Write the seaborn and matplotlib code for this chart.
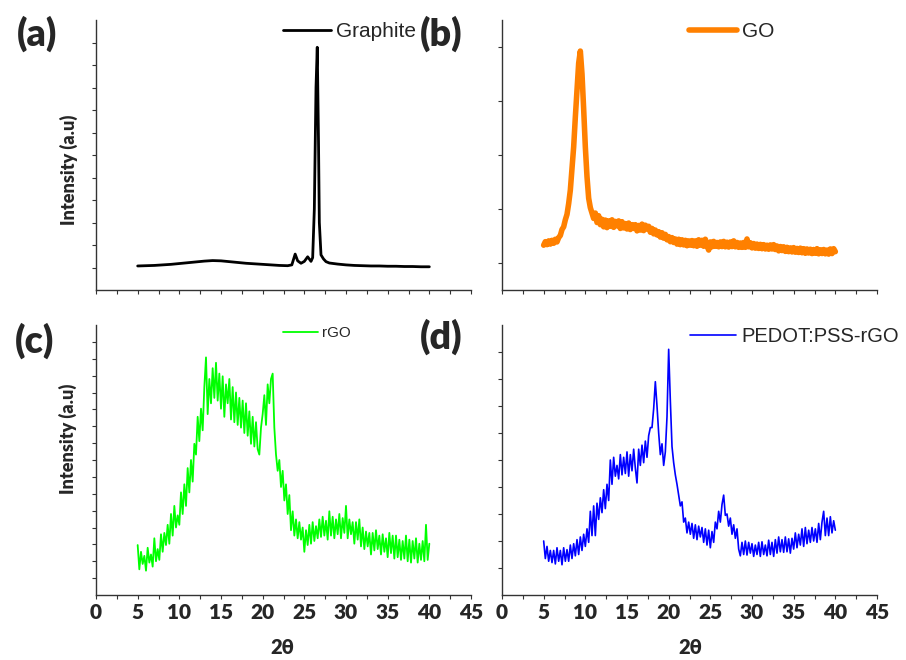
import numpy as np
import pandas as pd
import matplotlib
matplotlib.use("Agg")
import matplotlib.pyplot as plt
import seaborn as sns
from matplotlib.ticker import MultipleLocator, FixedLocator

sns.set_style("ticks")
plt.rcParams['font.family'] = ['Lato', 'DejaVu Sans']

# ---------------- data (intensity in arbitrary units) -------------
graphite_x = [5, 6, 7, 8, 9, 10, 11, 12, 13, 14, 15, 16, 17, 18, 19, 20, 21, 22, 23,
              23.5, 23.9, 24.2, 24.6, 25.0, 25.4, 25.8, 26.0, 26.2, 26.4, 26.55, 26.7,
              26.8, 27.0, 27.3, 27.6, 28, 29, 30, 31, 32, 33, 34, 35, 36, 37, 38, 39, 40]
graphite_y = [8.9, 9.0, 9.1, 9.3, 9.5, 9.8, 10.1, 10.4, 10.7, 10.9, 10.8, 10.5, 10.2, 9.9,
              9.7, 9.5, 9.3, 9.1, 9.0, 9.3, 13.3, 10.8, 9.9, 10.6, 12.3, 10.6, 12.0, 30.0,
              75.0, 89.9, 55.0, 25.0, 13.0, 11.5, 10.5, 10.0, 9.6, 9.3, 9.1, 9.0, 8.9, 8.9,
              8.8, 8.8, 8.7, 8.7, 8.6, 8.6]

# step 0.2 deg from 5.0 to 40.0 (one row per degree)
go_y = [
    16.6, 17.9, 16.8, 18.2, 17.0,   # 5
    18.4, 17.3, 18.8, 17.8, 19.4,   # 6
    20.2, 22.4, 23.4, 26.0, 28.0,   # 7
    32.0, 37.0, 45.0, 53.0, 64.0,   # 8
    74.0, 84.0, 88.5, 80.0, 67.0,   # 9
    53.0, 42.0, 34.0, 30.5, 28.5,   # 10
    26.5, 28.5, 25.0, 27.5, 24.2,   # 11
    26.2, 23.4, 25.9, 23.1, 25.6,   # 12
    23.6, 26.0, 23.2, 25.4, 23.8,   # 13
    25.6, 22.8, 25.3, 23.0, 24.6,   # 14
    22.6, 24.8, 22.4, 24.2, 22.8,   # 15
    24.2, 21.9, 23.9, 22.2, 24.4,   # 16
    22.0, 24.0, 22.6, 23.6, 21.4,   # 17
    22.8, 20.8, 22.2, 20.4, 21.6,   # 18
    19.6, 21.2, 19.2, 20.6, 18.6,   # 19
    19.8, 17.9, 19.4, 17.6, 18.9,   # 20
    17.0, 18.8, 16.8, 18.6, 16.7,   # 21
    18.4, 16.4, 18.2, 16.6, 18.3,   # 22
    16.4, 18.2, 16.2, 18.6, 16.6,   # 23
    18.4, 16.2, 18.8, 16.4, 14.8,   # 24
    17.8, 16.0, 18.0, 16.2, 17.6,   # 25
    16.0, 17.8, 16.1, 18.0, 16.0,   # 26
    17.7, 15.9, 17.8, 16.1, 18.2,   # 27
    16.0, 17.6, 15.8, 17.4, 15.8,   # 28
    17.6, 15.8, 18.9, 16.0, 17.5,   # 29
    15.6, 17.2, 15.5, 17.0, 15.4,   # 30
    16.9, 15.3, 16.8, 15.2, 16.6,   # 31
    15.1, 16.7, 15.2, 16.8, 15.0,   # 32
    16.3, 14.5, 16.1, 14.6, 16.0,   # 33
    14.3, 15.8, 14.2, 15.6, 14.1,   # 34
    15.7, 14.0, 15.4, 13.9, 15.5,   # 35
    13.8, 15.3, 13.6, 15.2, 13.7,   # 36
    15.1, 13.5, 15.0, 13.6, 15.3,   # 37
    13.4, 14.9, 13.5, 15.0, 13.4,   # 38
    14.8, 13.3, 15.2, 13.5, 15.3,   # 39
    14.2]                           # 40

rgo_y = [
    18.5, 9.5, 16.0, 11.5, 14.5,    # 5
    9.0, 17.5, 12.0, 15.0, 10.5,    # 6
    21.0, 12.5, 17.0, 13.0, 22.5,   # 7
    16.0, 23.0, 18.5, 26.0, 19.0,   # 8
    30.0, 22.0, 33.0, 25.0, 29.5,   # 9
    26.0, 38.0, 30.0, 41.0, 33.0,   # 10
    47.0, 38.0, 50.0, 42.0, 56.0,   # 11
    52.0, 66.0, 57.0, 69.0, 61.0,   # 12
    77.0, 88.0, 67.0, 80.0, 71.0,   # 13
    84.0, 73.0, 86.0, 72.0, 82.0,   # 14
    69.0, 81.0, 66.0, 78.0, 71.0,   # 15
    80.0, 65.0, 77.0, 64.0, 75.0,   # 16
    63.0, 73.0, 62.0, 72.0, 60.0,   # 17
    71.0, 59.0, 68.0, 56.0, 66.0,   # 18
    55.0, 64.0, 54.0, 52.0, 62.0,   # 19
    67.0, 74.0, 63.0, 78.0, 71.0,   # 20
    80.0, 82.0, 62.0, 52.0, 46.0,   # 21
    50.0, 40.0, 46.0, 35.0, 41.0,   # 22
    30.0, 37.0, 24.0, 31.0, 22.0,   # 23
    28.0, 21.0, 27.0, 20.5, 25.0,   # 24
    16.0, 24.0, 18.5, 26.0, 19.0,   # 25
    27.0, 20.0, 25.5, 21.0, 28.0,   # 26
    21.5, 29.0, 22.0, 27.5, 20.5,   # 27
    31.0, 22.0, 29.0, 21.0, 28.0,   # 28
    22.5, 30.0, 21.0, 28.5, 23.0,   # 29
    33.0, 21.0, 28.0, 22.5, 27.0,   # 30
    19.0, 27.0, 20.5, 28.0, 18.0,   # 31
    25.0, 17.0, 23.5, 18.0, 23.0,   # 32
    15.0, 23.0, 16.5, 24.0, 17.0,   # 33
    22.0, 15.0, 22.5, 16.0, 21.0,   # 34
    14.0, 23.0, 15.5, 22.0, 13.5,   # 35
    22.0, 14.0, 20.5, 13.0, 20.0,   # 36
    13.5, 22.0, 12.5, 20.5, 12.0,   # 37
    20.0, 13.5, 21.0, 12.0, 19.0,   # 38
    13.0, 20.0, 12.5, 26.0, 13.0,   # 39
    19.0]                           # 40

pedot_y = [
    20.0, 13.5, 18.0, 12.5, 16.5,   # 5
    12.0, 16.5, 11.5, 17.5, 12.5,   # 6
    16.5, 11.2, 17.5, 12.5, 16.8,   # 7
    12.5, 18.5, 13.5, 19.0, 14.5,   # 8
    20.5, 15.0, 21.5, 16.5, 22.5,   # 9
    18.0, 24.5, 19.5, 31.0, 22.0,   # 10
    33.0, 22.0, 34.0, 28.0, 36.0,   # 11
    30.5, 39.0, 32.0, 41.0, 35.0,   # 12
    50.0, 41.0, 51.0, 44.0, 48.0,   # 13
    43.0, 52.0, 44.5, 51.0, 45.0,   # 14
    53.0, 44.0, 52.0, 46.0, 54.0,   # 15
    47.0, 41.5, 54.0, 48.0, 55.5,   # 16
    49.0, 57.0, 51.0, 59.0, 62.0,   # 17
    62.0, 69.0, 79.0, 70.0, 60.0,   # 18
    52.0, 56.0, 48.0, 53.0, 66.0,   # 19
    91.0, 72.0, 55.0, 49.0, 44.5,   # 20
    41.0, 37.0, 33.0, 34.5, 27.0,   # 21
    28.5, 23.0, 27.0, 22.5, 26.5,   # 22
    21.0, 26.0, 20.5, 25.5, 21.5,   # 23
    25.0, 19.5, 24.5, 18.5, 24.0,   # 24
    17.5, 23.5, 19.5, 27.0, 24.5,   # 25
    31.0, 27.0, 33.5, 37.0, 29.5,   # 26
    30.0, 25.5, 28.5, 22.5, 26.0,   # 27
    21.0, 24.5, 17.0, 14.5, 19.5,   # 28
    15.0, 20.0, 14.8, 19.5, 15.5,   # 29
    19.0, 14.3, 18.5, 15.0, 19.5,   # 30
    14.3, 19.7, 15.0, 18.5, 14.5,   # 31
    20.3, 15.0, 19.5, 14.3, 20.5,   # 32
    15.5, 21.5, 16.0, 20.5, 15.8,   # 33
    21.5, 16.0, 20.8, 15.5, 21.0,   # 34
    17.0, 23.0, 17.5, 22.5, 18.5,   # 35
    24.5, 18.0, 25.0, 19.0, 24.0,   # 36
    19.5, 25.0, 20.0, 24.5, 19.5,   # 37
    26.5, 20.5, 27.0, 31.0, 22.0,   # 38
    28.5, 22.0, 29.0, 23.0, 27.5,   # 39
    24.0]                           # 40

scan_x = list(np.round(np.linspace(5.0, 40.0, len(go_y)), 2))

x_ticks = [0, 5, 10, 15, 20, 25, 30, 35, 40, 45]

# ---------------- figure ------------------------------------------------------------------
W, H = 906, 660
fig = plt.figure(figsize=(W / 100, H / 100), dpi=100)

def ax_at(l, t, r, b):
    return fig.add_axes([l / W, 1 - b / H, (r - l) / W, (b - t) / H])

axa = ax_at(96, 20, 471, 290)
axb = ax_at(502, 20, 877, 290)
axc = ax_at(96, 325, 471, 595)
axd = ax_at(502, 325, 877, 595)

panels = [
    (axa, graphite_x, graphite_y, "Graphite", "black", 2.0, 15, (0.499, 0.956), [k / 12 * 100 for k in range(1, 12)], False),
    (axb, scan_x, go_y, "GO", "#ff8000", 4.0, 15, (0.499, 0.956), [10, 30, 50, 70, 90], False),
    (axc, scan_x, rgo_y, "rGO", "#00ff00", 1.3, 11, (0.499, 0.970), [k / 16 * 100 for k in range(1, 16)], True),
    (axd, scan_x, pedot_y, "PEDOT:PSS-rGO", "#0000ff", 1.2, 14.5, (0.501, 0.959), [k * 10 for k in range(1, 10)], True),
]

BOLD = "heavy"

for ax, xs, ys, lab, col, lw, lfs, anchor, yt, show_x in panels:
    df = pd.DataFrame({"x": xs, "y": ys})
    sns.lineplot(data=df, x="x", y="y", ax=ax, color=col, lw=lw, label=lab,
                 estimator=None, sort=False)
    ax.set_xlim(0, 45)
    ax.set_ylim(0, 100)
    ax.set_xlabel("")
    ax.set_ylabel("")
    ax.xaxis.set_major_locator(FixedLocator(x_ticks))
    ax.xaxis.set_minor_locator(MultipleLocator(2.5))
    ax.yaxis.set_major_locator(FixedLocator(yt))
    ax.set_yticklabels([])
    for s in ["top", "right"]:
        ax.spines[s].set_visible(False)
    for s in ["left", "bottom"]:
        ax.spines[s].set_color("#333333")
        ax.spines[s].set_linewidth(1.0)
    ax.tick_params(which="both", direction="out", length=3, width=0.8, color="#333333")
    if show_x:
        ax.set_xticklabels([str(v) for v in x_ticks])
        for t in ax.get_xticklabels():
            t.set_fontsize(15)
            t.set_fontweight(BOLD)
        ax.tick_params(axis="x", pad=3)
    else:
        ax.set_xticklabels([])
    leg = ax.legend(loc="center left", bbox_to_anchor=anchor, frameon=False,
                    borderpad=0, borderaxespad=0, handlelength=2.3, handletextpad=0.25,
                    prop={"family": "Liberation Sans", "size": lfs})

# panel letters
for txt, cx, cy in [("(a)", 37, 34), ("(b)", 441.5, 34), ("(c)", 35, 341), ("(d)", 441.5, 337)]:
    fig.text(cx / W, 1 - cy / H, txt, ha="center", va="center", fontsize=27, fontweight=BOLD)

# y labels
for cx, cy in [(69, 170), (68, 439)]:
    fig.text(cx / W, 1 - cy / H, "Intensity (a.u)", rotation=90, ha="center", va="center",
             fontsize=13, fontweight=BOLD)

# x labels
for cx in [282, 690.5]:
    fig.text(cx / W, 1 - 648 / H, "2θ", ha="center", va="center", fontsize=14.5,
             fontweight=BOLD)

fig.savefig("out.png", dpi=100)
